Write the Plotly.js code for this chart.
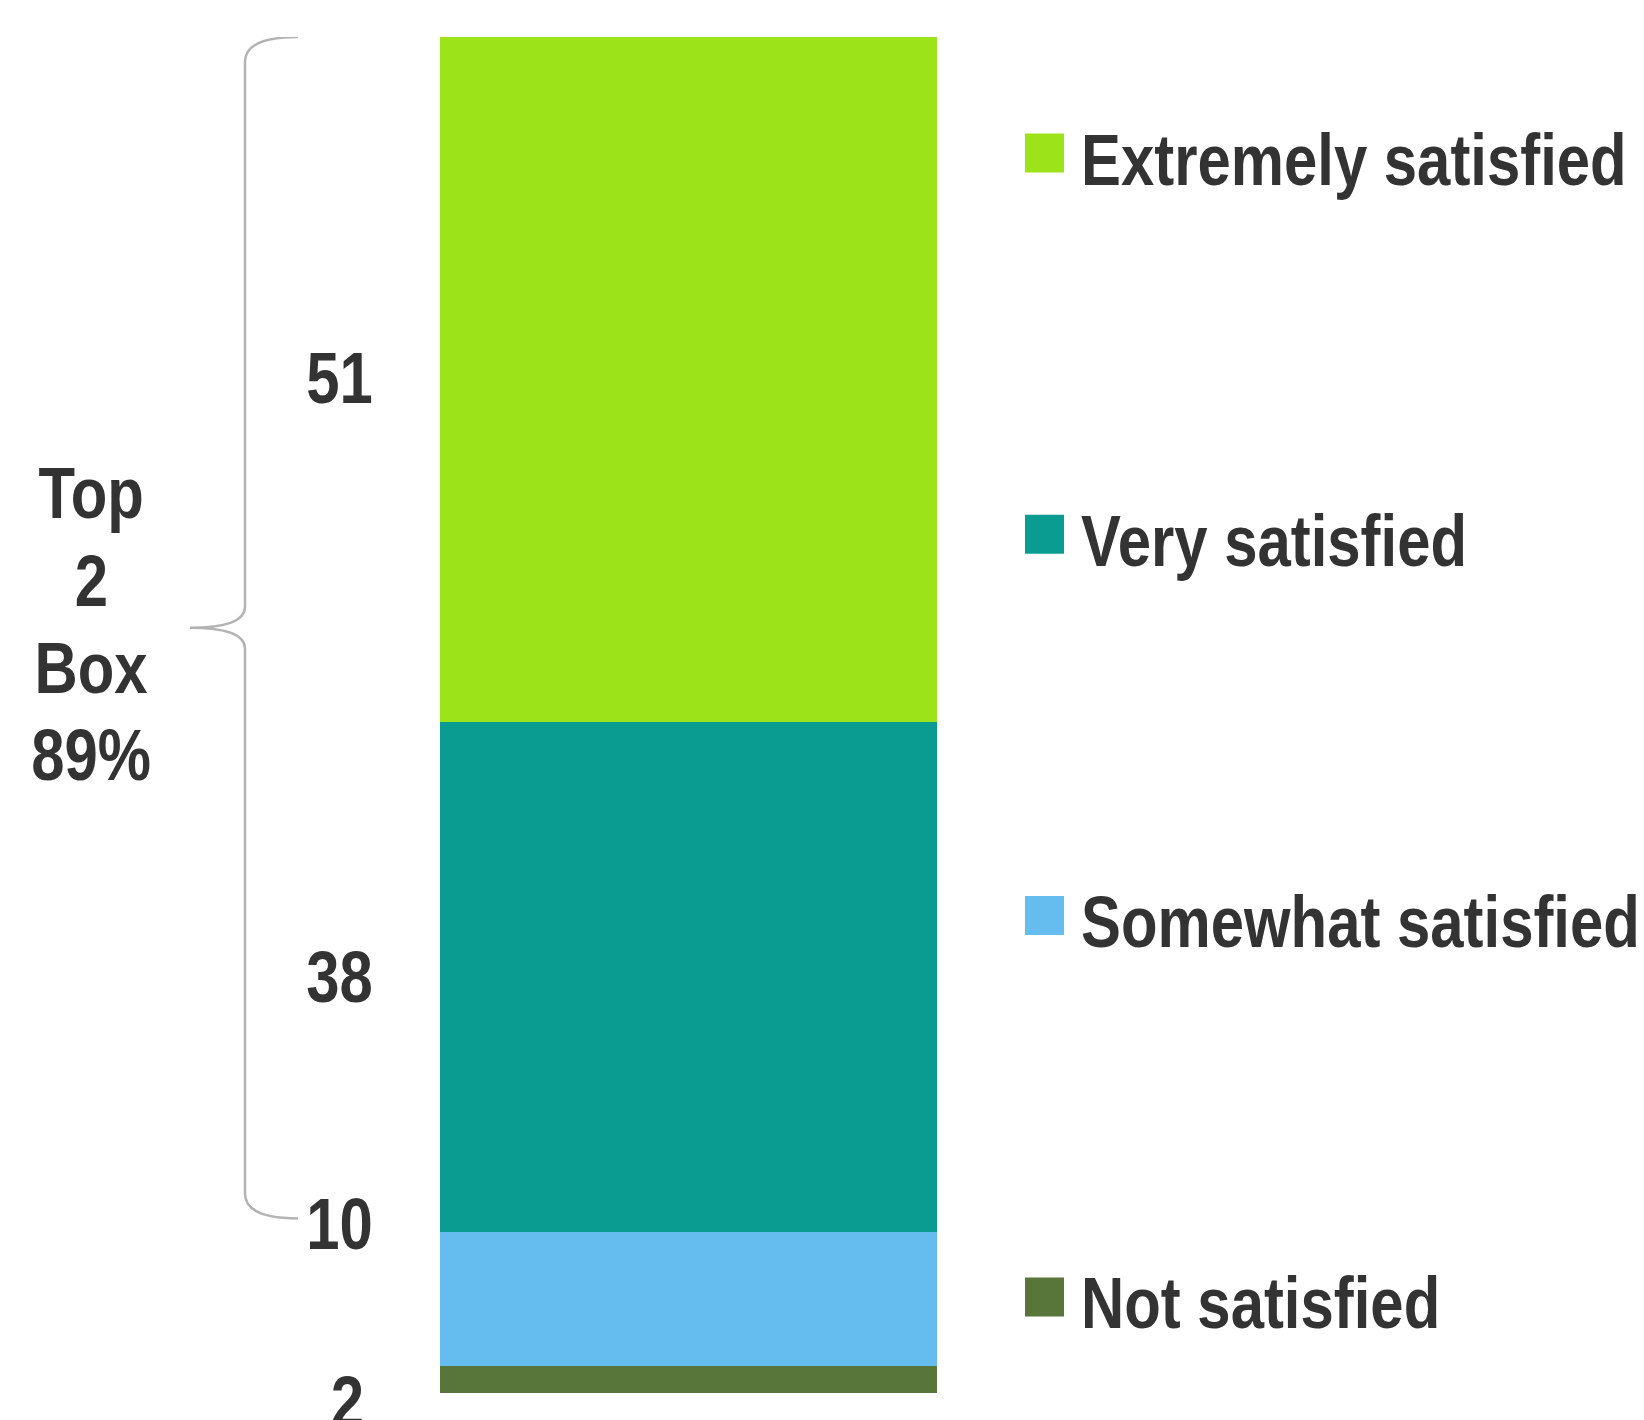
<!DOCTYPE html>
<html>
<head>
<meta charset="utf-8">
<script src="https://cdn.plot.ly/plotly-3.0.1.min.js"></script>
<style>
  html, body { margin: 0; padding: 0; background: #ffffff; }
  #chart { width: 1644px; height: 1420px; }
</style>
</head>
<body>
<div id="chart"></div>
<script>
// Satisfaction levels, stacked from the bottom of the bar upward
const categories = ['Not satisfied', 'Somewhat satisfied', 'Very satisfied', 'Extremely satisfied'];
const values = [2, 10, 38, 51];
const colors = ['#58763A', '#65BDEF', '#0A9C90', '#9DE319'];
const topBoxWords = ['Top', '2', 'Box'];

const W = 1644, H = 1420;
const M = { l: 0, r: 0, t: 37, b: 27 };
const plotH = H - M.t - M.b;
const FONT = '"Liberation Sans Narrow", "Arial Narrow", "Liberation Sans", Arial, sans-serif';
const TEXT = '#333333';
const NARROW = 0.82;   // horizontal squeeze giving a narrow bold face
const total = values.reduce((a, b) => a + b, 0);

// pixel helpers for placing decorations
const px = x => x / W;
const py = y => (H - M.b - y) / plotH;
const unitsPerPx = total / plotH;

const traces = categories.map((name, i) => ({
  type: 'bar',
  name: name,
  x: [0],
  y: [values[i]],
  width: [1],
  marker: { color: colors[i], line: { width: 0 } },
  hoverinfo: 'name+y',
  showlegend: false
}));

// cumulative bases for each segment
const bases = [];
values.reduce((acc, v, i) => { bases[i] = acc; return acc + v; }, 0);

const annotations = [];
const labelX = px(339);
const valueFont = { family: FONT, size: 73, color: TEXT, weight: 700 };

// segment value labels
annotations.push({ xref: 'paper', yref: 'y', x: labelX, y: bases[3] + values[3] / 2,
  text: String(values[3]), showarrow: false, xanchor: 'center', yanchor: 'middle', yshift: 2, font: valueFont });
annotations.push({ xref: 'paper', yref: 'y', x: labelX, y: bases[2] + values[2] / 2,
  text: String(values[2]), showarrow: false, xanchor: 'center', yanchor: 'middle', font: valueFont });
annotations.push({ xref: 'paper', yref: 'y', x: labelX, y: bases[1] + values[1],
  text: String(values[1]), showarrow: false, xanchor: 'center', yanchor: 'middle', yshift: 8, font: valueFont });
annotations.push({ xref: 'paper', yref: 'y', x: px(347), y: bases[0],
  text: String(values[0]), showarrow: false, xanchor: 'center', yanchor: 'middle', yshift: -8, font: valueFont });

// "Top 2 Box" summary, one line per annotation
const topBoxShare = values[2] + values[3];
const topBoxLines = topBoxWords.concat([topBoxShare + '%']);
topBoxLines.forEach((t, i) => {
  annotations.push({ xref: 'paper', yref: 'paper', x: px(91), y: py(493 + i * 87.3),
    text: t, showarrow: false, xanchor: 'center', yanchor: 'middle', font: valueFont });
});

// legend: top to bottom in reverse stacking order
const shapes = [];
const legendTop = 153, legendStep = 381.3, sq = 39;
const legendStart = annotations.length;
for (let k = 0; k < categories.length; k++) {
  const i = categories.length - 1 - k;
  const cy = legendTop + k * legendStep;
  shapes.push({ type: 'rect', xref: 'paper', yref: 'paper',
    x0: px(1025), x1: px(1025 + sq), y0: py(cy - sq / 2), y1: py(cy + sq / 2),
    fillcolor: colors[i], line: { width: 0 } });
  annotations.push({ xref: 'paper', yref: 'paper', x: px(1079), y: py(cy + 6),
    text: categories[i], showarrow: false, xanchor: 'left', yanchor: 'middle',
    font: { family: FONT, size: 73, color: TEXT, weight: 700 } });
}

// curly brace spanning the two top segments
const bTop = total;
const bBot = bases[2] + 1.0;
const bMid = (bTop + bBot) / 2;
const xe = px(298), xv = px(245), xt = px(190);
const curl = 25 * unitsPerPx, notch = 21 * unitsPerPx;
const bracePath =
  `M ${xe},${bTop} Q ${xv},${bTop} ${xv},${bTop - curl} ` +
  `L ${xv},${bMid + notch} Q ${xv},${bMid} ${xt},${bMid} ` +
  `Q ${xv},${bMid} ${xv},${bMid - notch} ` +
  `L ${xv},${bBot + curl} Q ${xv},${bBot} ${xe},${bBot}`;
shapes.push({ type: 'path', xref: 'paper', yref: 'y', path: bracePath,
  line: { color: '#B3B3B3', width: 2.5 } });

const layout = {
  width: W, height: H,
  margin: M,
  paper_bgcolor: '#ffffff',
  plot_bgcolor: '#ffffff',
  barmode: 'stack',
  bargap: 0,
  showlegend: false,
  xaxis: { domain: [px(440), px(937)], range: [-0.5, 0.5], visible: false, fixedrange: true },
  yaxis: { range: [0, total], visible: false, fixedrange: true },
  annotations: annotations,
  shapes: shapes
};

Plotly.newPlot('chart', traces, layout, { displayModeBar: false, staticPlot: true }).then(gd => {
  // squeeze the bold labels horizontally into a narrow face
  gd.querySelectorAll('g.annotation').forEach(g => {
    const idx = +g.getAttribute('data-index');
    const t = g.querySelector('text.annotation-text');
    if (!t) return;
    t.style.transformBox = 'fill-box';
    t.style.transformOrigin = idx >= legendStart ? 'left center' : 'center center';
    t.style.transform = `scaleX(${NARROW})`;
  });
});
</script>
</body>
</html>
